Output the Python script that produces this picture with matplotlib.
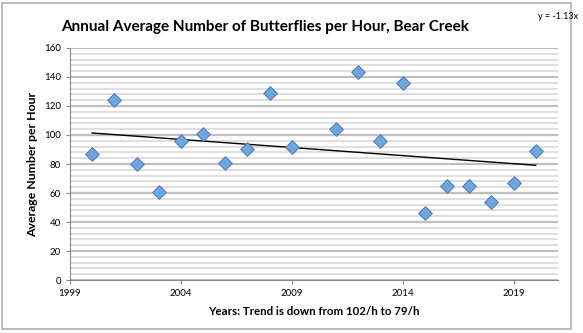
import matplotlib.pyplot as plt
import numpy as np
from matplotlib.patches import Rectangle

years = [2000, 2001, 2002, 2003, 2004, 2005, 2006, 2007, 2008, 2009,
         2011, 2012, 2013, 2014, 2015, 2016, 2017, 2018, 2019, 2020]
butterflies = [87, 124, 80, 60.5, 96, 101, 81, 90, 129, 92,
               104, 143.5, 96, 135.5, 46.5, 64.5, 64.5, 54, 67, 89]
year_ticks = [1999, 2004, 2009, 2014, 2019]

plt.rcParams['font.family'] = ['Lato', 'DejaVu Sans']

fig = plt.figure(figsize=(5.83, 3.33), dpi=100)
ax = fig.add_axes([0.120, 0.159, 0.837, 0.697])

# Excel-style gridlines: major every 20, minor every 4
ax.set_ylim(0, 160)
ax.set_xlim(1999, 2021)
ax.set_yticks(np.arange(0, 161, 20))
ax.set_yticks(np.arange(0, 161, 4), minor=True)
ax.yaxis.grid(True, which='major', color='#bfbfbf', linewidth=1.6)
ax.yaxis.grid(True, which='minor', color='#dcdcdc', linewidth=1.3)
ax.set_axisbelow(True)

ax.scatter(years, butterflies, marker='D', s=48, color='#6fa6dc',
           edgecolor='#4f81bd', linewidth=0.8, zorder=3)

# linear trend line
slope, icpt = np.polyfit(years, butterflies, 1)
tx = np.array([years[0], years[-1]])
ax.plot(tx, slope * tx + icpt, color='black', linewidth=1.0, zorder=2)

ax.set_xticks(year_ticks)
ax.tick_params(axis='both', which='major', labelsize=7, length=3, color='#888888')
ax.tick_params(axis='y', which='minor', length=0)
for s in ['top', 'right']:
    ax.spines[s].set_visible(False)
for s in ['left', 'bottom']:
    ax.spines[s].set_color('#888888')

ax.set_ylabel('Average Number per Hour', fontsize=8.8, fontweight='bold', labelpad=4)
ax.set_xlabel('Years: Trend is down from 102/h to 79/h', fontsize=8.3,
              fontweight='bold', labelpad=6)

fig.text(0.455, 0.918, 'Annual Average Number of Butterflies per Hour, Bear Creek',
         ha='center', va='center', fontsize=11, fontweight='bold')
fig.text(0.922, 0.95, 'y = -1.13x', ha='left', va='center', fontsize=6.5)

# chart area border
fig.patches.append(Rectangle((0.004, 0.012), 0.976, 0.98, transform=fig.transFigure,
                             fill=False, edgecolor='#b0b0b0', linewidth=1.2))

fig.savefig('out.png', dpi=100)
